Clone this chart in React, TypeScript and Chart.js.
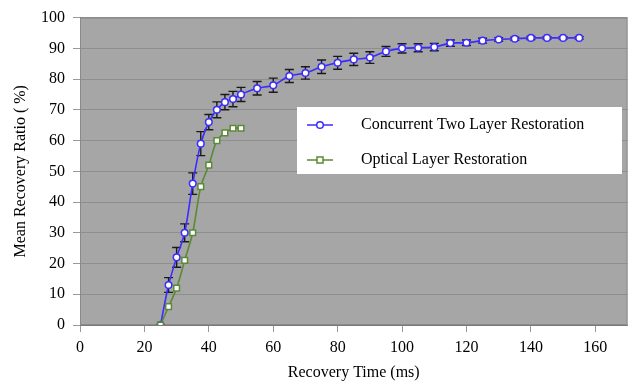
import React, { useEffect, useRef } from 'react';
import { Chart, registerables } from 'chart.js';
Chart.register(...registerables);

const FONT = "'Liberation Serif', 'Times New Roman', serif";

const xTicks = [0, 20, 40, 60, 80, 100, 120, 140, 160];
const blueLabel = 'Concurrent Two Layer Restoration';
const greenLabel = 'Optical Layer Restoration';

const blueX = [25, 27.5, 30, 32.5, 35, 37.5, 40, 42.5, 45, 47.5, 50, 55, 60, 65, 70, 75, 80, 85, 90, 95, 100, 105, 110, 115, 120, 125, 130, 135, 140, 145, 150, 155];
const blueY = [0, 13, 22, 30, 46, 59, 66, 70, 72.5, 73.5, 75, 77, 78, 81, 82, 84, 85.3, 86.4, 87, 89, 90, 90.2, 90.4, 91.7, 91.8, 92.5, 92.9, 93.1, 93.4, 93.4, 93.4, 93.4];
const blueErr = [0, 2.4, 3.2, 2.9, 3.5, 3.9, 2.5, 2.6, 2.5, 2.5, 2.3, 2.2, 2.3, 2.1, 2.0, 2.2, 2.1, 2.0, 1.9, 1.6, 1.5, 1.3, 1.2, 1.0, 0.9, 0.8, 0.6, 0.5, 0.5, 0.4, 0.4, 0.4];

const greenX = [25, 27.5, 30, 32.5, 35, 37.5, 40, 42.5, 45, 47.5, 50];
const greenY = [0, 6, 12, 21, 30, 45, 52, 60, 62.5, 64, 64];

const BLUE = '#3b2cff';
const GREEN = '#5a8a35';

const plotBg = {
  id: 'plotBg',
  beforeDraw(chart: any) {
    const { ctx, chartArea: a } = chart;
    ctx.save();
    ctx.fillStyle = '#a6a6a6';
    ctx.fillRect(a.left, a.top, a.right - a.left, a.bottom - a.top);
    ctx.restore();
  },
  beforeDatasetsDraw(chart: any) {
    const { ctx, chartArea: a, scales } = chart;
    ctx.save();
    ctx.strokeStyle = '#8a8a8a';
    ctx.lineWidth = 1;
    ctx.strokeRect(a.left + 0.5, a.top + 0.5, a.right - a.left - 1, a.bottom - a.top - 1);
    // error bars
    ctx.strokeStyle = '#1a1a1a';
    ctx.lineWidth = 1.4;
    blueX.forEach((xv, i) => {
      const e = blueErr[i];
      if (!e) return;
      const px = scales.x.getPixelForValue(xv);
      const y1 = scales.y.getPixelForValue(blueY[i] + e);
      const y2 = scales.y.getPixelForValue(blueY[i] - e);
      ctx.beginPath();
      ctx.moveTo(px, y1);
      ctx.lineTo(px, y2);
      ctx.moveTo(px - 4.5, y1);
      ctx.lineTo(px + 4.5, y1);
      ctx.moveTo(px - 4.5, y2);
      ctx.lineTo(px + 4.5, y2);
      ctx.stroke();
    });
    ctx.restore();
  },
};

const boxLegend = {
  id: 'boxLegend',
  afterDraw(chart: any) {
    const { ctx } = chart;
    ctx.save();
    ctx.fillStyle = '#ffffff';
    ctx.fillRect(297, 107, 325, 67);
    const rows = [
      { ds: chart.data.datasets[1], y: 125 },
      { ds: chart.data.datasets[0], y: 160 },
    ];
    rows.forEach(({ ds, y }) => {
      ctx.strokeStyle = ds.borderColor;
      ctx.lineWidth = 1.5;
      ctx.beginPath();
      ctx.moveTo(307, y);
      ctx.lineTo(333, y);
      ctx.stroke();
      ctx.fillStyle = '#ffffff';
      ctx.beginPath();
      if (ds.pointStyle === 'rect') {
        ctx.rect(317, y - 3, 6, 6);
      } else {
        ctx.arc(320, y, 3.3, 0, Math.PI * 2);
      }
      ctx.fill();
      ctx.stroke();
      ctx.fillStyle = '#000';
      ctx.font = `16px ${FONT}`;
      ctx.textBaseline = 'middle';
      ctx.textAlign = 'left';
      ctx.fillText(ds.label, 361, y);
    });
    ctx.restore();
  },
};

export default function App() {
  const ref = useRef<HTMLCanvasElement>(null);
  useEffect(() => {
    if (!ref.current) return;
    const chart = new Chart(ref.current, {
      type: 'line',
      data: {
        datasets: [
          {
            label: greenLabel,
            data: greenX.map((x, i) => ({ x, y: greenY[i] })),
            borderColor: GREEN,
            backgroundColor: '#ffffff',
            borderWidth: 1.6,
            pointStyle: 'rect',
            pointRadius: 4,
            pointBorderWidth: 1.5,
            tension: 0.3,
            order: 0,
          },
          {
            label: blueLabel,
            data: blueX.map((x, i) => ({ x, y: blueY[i] })),
            borderColor: BLUE,
            backgroundColor: '#ffffff',
            borderWidth: 1.6,
            pointStyle: 'circle',
            pointRadius: 3.3,
            pointBorderWidth: 1.5,
            tension: 0.3,
            order: 1,
          },
        ],
      },
      options: {
        animation: false,
        responsive: true,
        maintainAspectRatio: false,
        layout: { padding: { left: 0, right: 5, top: 14, bottom: 0 } },
        plugins: { legend: { display: false }, tooltip: { enabled: false } },
        scales: {
          x: {
            type: 'linear',
            min: 0,
            max: 170,
            afterBuildTicks: (s: any) => {
              s.ticks = xTicks.map((v) => ({ value: v }));
            },
            afterFit: (s: any) => {
              s.height = 60;
            },
            grid: { drawOnChartArea: false, drawTicks: true, tickLength: 7, tickColor: '#999', color: '#999' },
            border: { color: '#7a7a7a', width: 1 },
            ticks: { color: '#000', font: { family: FONT, size: 16 }, padding: 6, maxRotation: 0 },
            title: { display: true, text: 'Recovery Time (ms)', color: '#000', font: { family: FONT, size: 16 }, padding: { top: 0, bottom: 3 } },
          },
          y: {
            min: 0,
            max: 100,
            afterFit: (s: any) => {
              s.width = 80;
            },
            grid: { color: '#8e8e8e', tickLength: 7, tickColor: '#999' },
            border: { color: '#7a7a7a', width: 1 },
            ticks: { stepSize: 10, color: '#000', font: { family: FONT, size: 16 }, padding: 8 },
            title: { display: true, text: 'Mean Recovery Ratio ( %)', color: '#000', font: { family: FONT, size: 16 }, padding: { top: 11, bottom: 0 } },
          },
        },
      },
      plugins: [plotBg, boxLegend],
    });
    return () => chart.destroy();
  }, []);
  return (
    <div style={{ position: 'absolute', left: 0, top: 0, width: 633, height: 385 }}>
      <canvas ref={ref} />
    </div>
  );
}
